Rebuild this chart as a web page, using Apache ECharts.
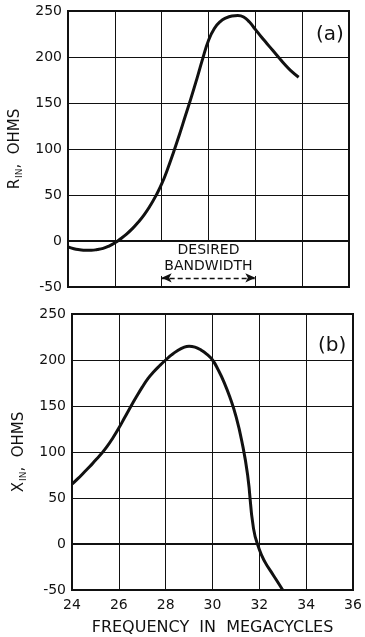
<!DOCTYPE html>
<html>
<head>
<meta charset="utf-8">
<script src="https://cdn.jsdelivr.net/npm/echarts@6/dist/echarts.min.js"></script>
<style>
  html, body { margin: 0; padding: 0; background: #fff; }
  #chart { width: 365px; height: 637px; }
</style>
</head>
<body>
<div id="chart"></div>
<script>
// frequency ticks (MHz) and ohm ticks, shared by both panels
const freqTicks = [24, 26, 28, 30, 32, 34, 36];
const ohmTicks = [-50, 0, 50, 100, 150, 200, 250];

// (a) input resistance, read every 0.25 MHz
const rFreq = [24, 24.25, 24.5, 24.75, 25, 25.25, 25.5, 25.75, 26, 26.25, 26.5, 26.75, 27, 27.25, 27.5, 27.75,
  28, 28.25, 28.5, 28.75, 29, 29.25, 29.5, 29.75, 30, 30.25, 30.5, 30.75, 31, 31.25, 31.5, 31.75,
  32, 32.25, 32.5, 32.75, 33, 33.25, 33.5, 33.85];
const rOhms = [-6.5, -8.5, -9.5, -10, -10, -9.3, -8, -5.5, -2, 2.5, 7.5, 13.5, 20.5, 28.5, 38, 49,
  62, 78, 96, 115, 135, 155, 176, 198, 218, 231, 238.5, 242.5, 244.5, 245, 243.5, 238,
  230, 222, 214.5, 207, 199.5, 192, 185.5, 178];

// (b) input reactance, read every 0.25 MHz
const xFreq = [24, 24.25, 24.5, 24.75, 25, 25.25, 25.5, 25.75, 26, 26.25, 26.5, 26.75, 27, 27.25, 27.5, 27.75,
  28, 28.25, 28.5, 28.75, 29, 29.25, 29.5, 29.75, 30, 30.25, 30.5, 30.75, 31, 31.25, 31.5, 31.75,
  32, 32.25, 32.5, 32.75, 33];
const xOhms = [65, 71, 77.5, 84, 91, 98, 106, 115.5, 126, 137.5, 149, 160, 170.5, 180, 187.5, 194,
  200, 205.5, 210, 213.5, 215, 214, 211, 206.5, 200, 189, 175.5, 159, 139, 112, 75, 17,
  -6, -20, -30, -40, -50];

// desired bandwidth
const band = [28, 32];

const FONT = "DejaVu Sans";
const INK = "#111";

const chart = echarts.init(document.getElementById("chart"));

function yAxisFor(gridIndex, nameParts) {
  return {
    type: "value",
    gridIndex,
    min: ohmTicks[0],
    max: ohmTicks[ohmTicks.length - 1],
    interval: 50,
    name: nameParts,
    nameLocation: "middle",
    nameRotate: 90,
    nameGap: 44,
    nameTextStyle: {
      color: INK,
      fontFamily: FONT,
      fontSize: 15,
      rich: {
        big: { fontSize: 15, fontFamily: FONT, color: INK },
        sub: { fontSize: 9, fontFamily: FONT, color: INK, verticalAlign: "bottom", padding: [8, 0, 0, 1] }
      }
    },
    axisLine: { show: false },
    axisTick: { show: false },
    axisLabel: { color: INK, fontFamily: FONT, fontSize: 14, margin: 6 },
    splitLine: { lineStyle: { color: INK, width: 1 } }
  };
}

const vGrid = (x, from, to) => [{ coord: [x, from] }, { coord: [x, to] }];

chart.setOption({
  animation: false,
  title: [
    { text: "(a)", left: 311, top: 20, textStyle: { fontFamily: FONT, fontSize: 20, fontWeight: "normal", color: INK } },
    { text: "(b)", left: 313, top: 331, textStyle: { fontFamily: FONT, fontSize: 20, fontWeight: "normal", color: INK } }
  ],
  grid: [
    { left: 68, top: 11, width: 281, height: 276, show: true, borderColor: INK, borderWidth: 2, backgroundColor: "transparent" },
    { left: 72, top: 314, width: 281, height: 278, show: true, borderColor: INK, borderWidth: 2, backgroundColor: "transparent" }
  ],
  xAxis: [
    {
      type: "value", gridIndex: 0, min: freqTicks[0], max: freqTicks[freqTicks.length - 1], interval: 2,
      axisLine: { show: false },
      axisTick: { show: true, inside: true, length: 5, lineStyle: { color: INK, width: 1 } },
      axisLabel: { show: false },
      splitLine: { show: false }
    },
    {
      type: "value", gridIndex: 1, min: freqTicks[0], max: freqTicks[freqTicks.length - 1], interval: 2,
      name: "FREQUENCY  IN  MEGACYCLES",
      nameLocation: "middle",
      nameGap: 30,
      nameTextStyle: { color: INK, fontFamily: FONT, fontSize: 16 },
      axisLine: { show: false },
      axisTick: { show: false },
      axisLabel: { color: INK, fontFamily: FONT, fontSize: 14, margin: 8 },
      splitLine: { lineStyle: { color: INK, width: 1 } }
    }
  ],
  yAxis: [
    yAxisFor(0, "{big|R}{sub|IN}{big|,  OHMS}"),
    yAxisFor(1, "{big|X}{sub|IN}{big|,  OHMS}")
  ],
  series: [
    {
      type: "line",
      xAxisIndex: 0, yAxisIndex: 0,
      data: rFreq.map((f, i) => [f, rOhms[i]]),
      smooth: 0.5,
      showSymbol: false,
      lineStyle: { color: INK, width: 3 },
      z: 5,
      markLine: {
        silent: true,
        symbol: "none",
        label: { show: false },
        lineStyle: { color: INK, width: 1, type: "solid" },
        data: [
          vGrid(26, -50, 250),
          vGrid(28, 0, 250),
          vGrid(30, 0, 250),
          vGrid(32, 0, 250),
          vGrid(34, -50, 250),
          vGrid(band[0], -50, -38),
          vGrid(band[1], -50, -38),
          [{ coord: [24, 0], lineStyle: { width: 2 } }, { coord: [36, 0] }]
        ]
      }
    },
    {
      // bandwidth arrow
      type: "line",
      xAxisIndex: 0, yAxisIndex: 0,
      data: [],
      markLine: {
        silent: true,
        symbol: ["arrow", "arrow"],
        symbolSize: [7, 10],
        lineStyle: { color: INK, width: 1.3, type: [5, 3] },
        label: {
          show: true,
          position: "middle",
          distance: 3,
          formatter: "DESIRED\nBANDWIDTH",
          color: INK,
          fontFamily: FONT,
          fontSize: 14,
          lineHeight: 16
        },
        data: [[{ coord: [band[0], -40] }, { coord: [band[1], -40] }]]
      }
    },
    {
      type: "line",
      xAxisIndex: 1, yAxisIndex: 1,
      data: xFreq.map((f, i) => [f, xOhms[i]]),
      smooth: 0.5,
      showSymbol: false,
      lineStyle: { color: INK, width: 3 },
      z: 5,
      markLine: {
        silent: true,
        symbol: "none",
        label: { show: false },
        lineStyle: { color: INK, width: 2, type: "solid" },
        data: [[{ coord: [24, 0] }, { coord: [36, 0] }]]
      }
    }
  ]
});
</script>
</body>
</html>
